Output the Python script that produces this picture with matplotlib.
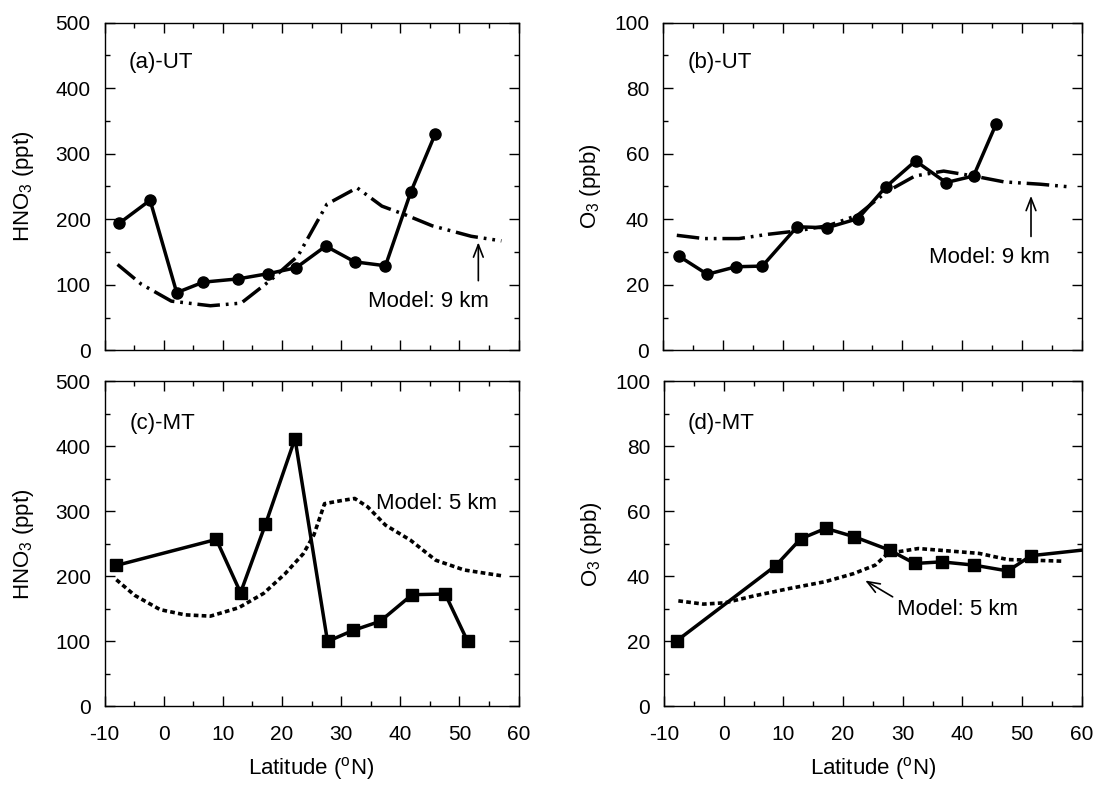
import numpy as np
import matplotlib
matplotlib.use("Agg")
import matplotlib.pyplot as plt
from matplotlib.ticker import MultipleLocator

plt.rcParams["font.family"] = ["Liberation Sans", "DejaVu Sans"]
plt.rcParams["mathtext.fontset"] = "custom"
plt.rcParams["mathtext.rm"] = "Liberation Sans"
plt.rcParams["mathtext.it"] = "Liberation Sans:italic"
plt.rcParams["axes.unicode_minus"] = False

# (a) UT HNO3
lat_a = [-7.5, -2.3, 2.2, 6.7, 12.6, 17.7, 22.4, 27.4, 32.3, 37.5, 41.8, 45.9]
hno3_ut = [194, 229, 88, 104, 109, 117, 126, 159, 135, 129, 242, 330]
mlat_a = [-7.8, -3.8, 1.3, 7.9, 13.1, 18.2, 22.7, 27.6, 32.7, 36.9, 40.8, 45.4, 52.0, 57.1]
model_hno3_9 = [131, 101, 75, 68, 72, 108, 144, 223, 248, 220, 207, 190, 174, 167]

# (b) UT O3
lat_b = [-7.4, -2.6, 2.2, 6.6, 12.4, 17.4, 22.6, 27.2, 32.2, 37.3, 41.9, 45.7]
o3_ut = [28.8, 23.2, 25.5, 25.7, 37.7, 37.4, 40.2, 49.8, 57.8, 51.2, 53.2, 69.2]
mlat_b = [-7.7, -3.2, 2.7, 7.5, 12.3, 17.7, 22.5, 27.3, 32.1, 36.9, 41.9, 47.0, 53.0, 57.8]
model_o3_9 = [35.1, 34.1, 34.1, 35.4, 36.4, 38.1, 41.2, 48.3, 53.2, 54.7, 53.2, 51.4, 50.7, 49.9]

# (c) MT HNO3
lat_c = [-8.0, 8.9, 13.0, 17.2, 22.2, 27.7, 32.0, 36.6, 42.0, 47.6, 51.4]
hno3_mt = [217, 257, 175, 280, 412, 100, 117, 131, 172, 173, 100]
mlat_c = [-8.0, -4.9, -0.6, 3.6, 7.9, 12.7, 16.9, 20.5, 23.6, 25.4, 27.2, 30.2, 32.3,
          34.5, 37.5, 41.7, 46.0, 50.8, 57.2]
model_hno3_5 = [195, 171, 149, 141, 139, 152, 174, 204, 235, 264, 312, 317, 320,
                307, 279, 256, 225, 210, 201]

# (d) MT O3
lat_d = [-7.8, 8.7, 12.9, 17.1, 21.9, 27.8, 32.0, 36.5, 41.9, 47.6, 51.5, 60.0]
o3_mt = [20.3, 43.3, 51.6, 54.8, 52.2, 48.1, 44.0, 44.5, 43.5, 41.7, 46.4, 48.1]
mlat_d = [-7.6, -3.4, 0.2, 5.0, 11.0, 17.0, 21.8, 25.4, 27.5, 32.6, 37.4, 42.8, 47.6, 51.8, 56.9]
model_o3_5 = [32.5, 31.5, 31.9, 34.0, 36.3, 38.4, 40.9, 43.5, 47.1, 48.6, 47.9, 47.1, 45.2, 45.0, 44.7]

dashdot = (0, (6.5, 1.7, 0.8, 1.7, 0.8, 1.7))
dotted = (0, (1.3, 0.9))
arrow = dict(arrowstyle="->,head_length=0.9,head_width=0.35", color="black", lw=1.2)

fig = plt.figure(figsize=(10.97, 7.87), dpi=100)
ax_a = fig.add_axes([0.0953, 0.5549, 0.3774, 0.4163])
ax_b = fig.add_axes([0.6044, 0.5549, 0.3818, 0.4163])
ax_c = fig.add_axes([0.0953, 0.1023, 0.3774, 0.413])
ax_d = fig.add_axes([0.6053, 0.1023, 0.3809, 0.413])


def style(ax, ymax, ystep, yminor, bottom):
    ax.set_xlim(-10, 60)
    ax.set_ylim(0, ymax)
    ax.xaxis.set_major_locator(MultipleLocator(10))
    ax.xaxis.set_minor_locator(MultipleLocator(5))
    ax.yaxis.set_major_locator(MultipleLocator(ystep))
    ax.yaxis.set_minor_locator(MultipleLocator(yminor))
    ax.tick_params(which="both", direction="in", top=True, right=True, width=1.0)
    ax.tick_params(which="major", length=7)
    ax.tick_params(which="minor", length=3.5)
    ax.tick_params(axis="y", labelsize=15, pad=10)
    ax.tick_params(axis="x", labelsize=15, pad=13)
    for s in ax.spines.values():
        s.set_linewidth(1.0)
    if bottom:
        ax.set_xlabel(r"Latitude ($^{\mathrm{o}}$N)", fontsize=16, labelpad=8)
    else:
        ax.tick_params(axis="x", labelbottom=False)


# (a)
ax_a.plot(mlat_a, model_hno3_9, color="black", lw=2.5, linestyle=dashdot)
ax_a.plot(lat_a, hno3_ut, color="black", lw=2.5, marker="o", markersize=8)
style(ax_a, 500, 100, 50, False)
ax_a.set_ylabel(r"HNO$_3$ (ppt)", fontsize=16)
ax_a.yaxis.set_label_coords(-0.165, 0.5)
ax_a.text(0.058, 0.878, "(a)-UT", transform=ax_a.transAxes, fontsize=16, va="center")
ax_a.annotate("", xy=(53.2, 169), xytext=(53.2, 102), arrowprops=arrow)
ax_a.text(44.8, 75, "Model: 9 km", fontsize=16, ha="center", va="center")

# (b)
ax_b.plot(mlat_b, model_o3_9, color="black", lw=2.5, linestyle=dashdot)
ax_b.plot(lat_b, o3_ut, color="black", lw=2.5, marker="o", markersize=8)
style(ax_b, 100, 20, 10, False)
ax_b.set_ylabel(r"O$_3$ (ppb)", fontsize=16)
ax_b.yaxis.set_label_coords(-0.144, 0.5)
ax_b.text(0.058, 0.878, "(b)-UT", transform=ax_b.transAxes, fontsize=16, va="center")
ax_b.annotate("", xy=(51.5, 48.0), xytext=(51.5, 33.9), arrowprops=arrow)
ax_b.text(44.5, 28.3, "Model: 9 km", fontsize=16, ha="center", va="center")

# (c)
ax_c.plot(mlat_c, model_hno3_5, color="black", lw=2.6, linestyle=dotted)
ax_c.plot(lat_c, hno3_mt, color="black", lw=2.5, marker="s", markersize=8)
style(ax_c, 500, 100, 50, True)
ax_c.set_ylabel(r"HNO$_3$ (ppt)", fontsize=16)
ax_c.yaxis.set_label_coords(-0.165, 0.5)
ax_c.text(0.06, 0.87, "(c)-MT", transform=ax_c.transAxes, fontsize=16, va="center")
ax_c.text(46.1, 313, "Model: 5 km", fontsize=16, ha="center", va="center")

# (d)
ax_d.plot(mlat_d, model_o3_5, color="black", lw=2.6, linestyle=dotted)
ax_d.plot(lat_d, o3_mt, color="black", lw=2.5, marker="s", markersize=8,
          markevery=list(range(len(lat_d) - 1)))
style(ax_d, 100, 20, 10, True)
ax_d.set_ylabel(r"O$_3$ (ppb)", fontsize=16)
ax_d.yaxis.set_label_coords(-0.144, 0.5)
ax_d.text(0.056, 0.87, "(d)-MT", transform=ax_d.transAxes, fontsize=16, va="center")
ax_d.annotate("", xy=(23.3, 39.2), xytext=(28.7, 33.3), arrowprops=arrow)
ax_d.text(39.2, 29.7, "Model: 5 km", fontsize=16, ha="center", va="center")

fig.savefig("out.png", dpi=100)
